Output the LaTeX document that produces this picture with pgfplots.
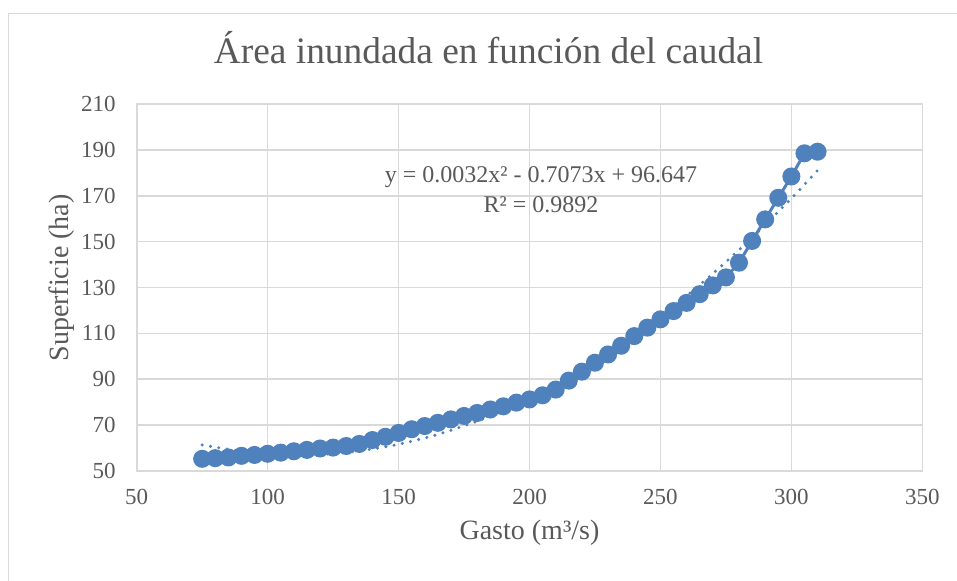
\documentclass[border=0pt]{standalone}
\usepackage{fontspec}
\setmainfont{Liberation Serif}
\usepackage{pgfplots}
\pgfplotsset{compat=1.18}
\definecolor{serie}{HTML}{4F81BD}
\definecolor{txt}{HTML}{595959}
\definecolor{rejilla}{HTML}{D9D9D9}
\begin{document}
\begin{tikzpicture}
\useasboundingbox (0,0) rectangle (478.5pt,290.5pt);
% marco del grafico
\draw[rejilla, line width=0.6pt] (4.25pt,0) -- (4.25pt,283.8pt) -- (478.5pt,283.8pt);
\begin{axis}[
  at={(68.35pt,55pt)}, anchor=south west,
  scale only axis, width=392.8pt, height=183.5pt,
  xmin=50, xmax=350, ymin=50, ymax=210,
  xtick={50,100,...,350}, ytick={50,70,...,210},
  grid=major, major grid style={rejilla, line width=0.8pt},
  axis line style={rejilla, line width=0.8pt},
  tick style={draw=none},
  ticklabel style={font=\fontsize{11.5}{13}\selectfont, text=txt},
  /pgf/number format/assume math mode=true,
  yticklabel style={xshift=-7pt},
  xticklabel style={yshift=-5.8pt},
  label style={font=\fontsize{14}{16}\selectfont, text=txt},
  xlabel={Gasto (m³/s)},
  ylabel={Superficie (ha)},
  xlabel style={at={(axis description cs:0.5,-0.169)}, anchor=center},
  ylabel style={at={(axis description cs:-0.0955,0.526)}, anchor=center},
  clip=false,
]
\addplot[serie, line width=1.5pt, mark=*, mark size=3.75pt, mark options={fill=serie, draw=serie}] coordinates {
(75,55.3) (80,55.6) (85,55.9) (90,56.6) (95,57.0) (100,57.5) (105,58.0)
(110,58.6) (115,59.2) (120,59.8) (125,60.2) (130,60.9) (135,61.8) (140,63.5)
(145,64.9) (150,66.6) (155,68.2) (160,69.6) (165,71.0) (170,72.5) (175,74.0)
(180,75.3) (185,76.8) (190,78.2) (195,79.8) (200,81.2) (205,83.0) (210,85.5)
(215,89.4) (220,93.3) (225,97.2) (230,100.8) (235,104.6) (240,108.8) (245,112.5)
(250,116.1) (255,119.7) (260,123.3) (265,127.1) (270,130.9) (275,134.4) (280,140.8)
(285,150.3) (290,159.7) (295,169.1) (300,178.4) (305,188.5) (310,189.2)
};
% linea de tendencia
\addplot[serie, smooth, line width=1.7pt, line cap=round, dash pattern=on 0pt off 4.2pt] coordinates {
(75,61.37) (90,58.59) (105,57.22) (120,57.28) (135,58.75) (150,61.65)
(165,65.97) (180,71.72) (195,78.88) (210,87.47) (225,97.48) (240,108.91)
(255,121.76) (270,136.04) (285,151.74) (300,168.86) (310,181.06)
};
\end{axis}
\node[anchor=base, text=txt, font=\fontsize{18.7}{22}\selectfont] at (244.25pt,258.5pt) {Área inundada en función del caudal};
\node[anchor=base, text=txt, font=\fontsize{12}{13}\selectfont] at (270.5pt,199pt) {y = 0.0032x² - 0.7073x + 96.647};
\node[anchor=base, text=txt, font=\fontsize{12}{13}\selectfont] at (270.5pt,184pt) {R² = 0.9892};
\end{tikzpicture}
\end{document}
